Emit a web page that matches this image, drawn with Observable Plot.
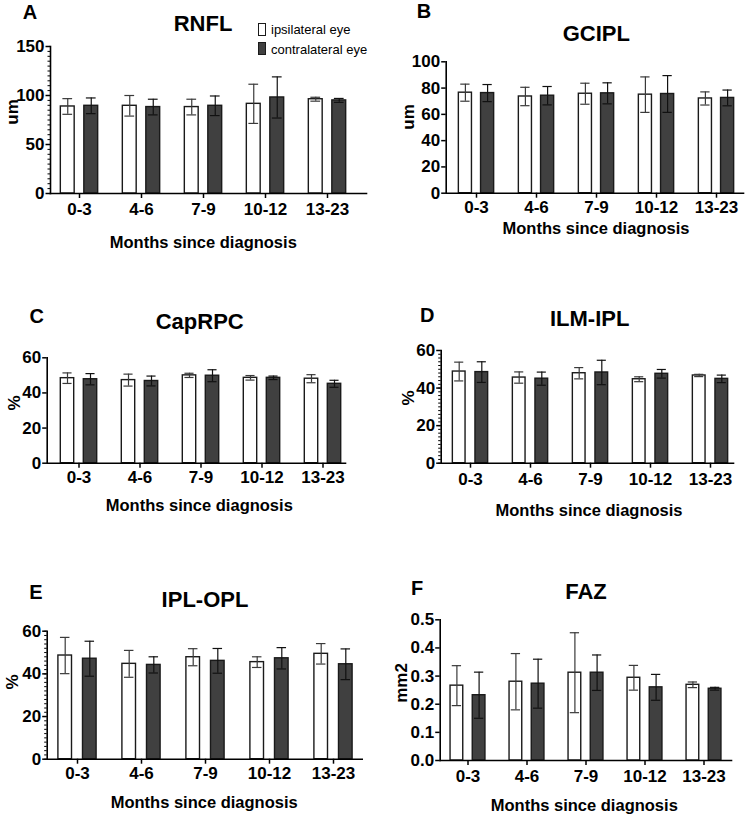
<!DOCTYPE html>
<html>
<head>
<meta charset="utf-8">
<script src="https://cdn.jsdelivr.net/npm/d3@7"></script>
<script src="https://cdn.jsdelivr.net/npm/@observablehq/plot@0.6"></script>
<style>
  body { margin: 0; background: #fff; }
  #fig { position: relative; width: 746px; height: 816px; background: #fff; overflow: hidden;
         font-family: "Liberation Sans", Arial, Helvetica, sans-serif; color: #000; }
  .lab { position: absolute; white-space: nowrap; line-height: 1; font-weight: bold; }
  .panel { position: absolute; }
  .key { position: absolute; box-sizing: border-box; border: 1.3px solid #1a1a1a; }
  .keytext { position: absolute; white-space: nowrap; line-height: 1; font-size: 13px; font-weight: normal; transform: translateY(-50%); }
</style>
</head>
<body>
<div id="fig"></div>
<script>
// Time since diagnosis (months) and the two eyes compared
const groups = ["0-3", "4-6", "7-9", "10-12", "13-23"];
const eyes = ["ipsilateral eye", "contralateral eye"];

// RNFL thickness (um), mean and SD
const rnflIpsi = [88.8, 89.5, 88.2, 91.5, 96.2];
const rnflIpsiSd = [8, 10.5, 8, 20, 2];
const rnflContra = [89.5, 88.2, 89.5, 98, 95];
const rnflContraSd = [8, 8, 10, 21, 2];
const rnflTicks = [0, 50, 100, 150];

// GCIPL thickness (um)
const gciplIpsi = [76.5, 73.6, 75.7, 75, 72.1];
const gciplIpsiSd = [6.5, 7, 8, 13.5, 5];
const gciplContra = [76.2, 74.2, 76, 75.5, 72.5];
const gciplContraSd = [6.5, 7, 8, 14, 6];
const gciplTicks = [0, 20, 40, 60, 80, 100];

// Capillary density, radial peripapillary capillaries (%)
const capIpsi = [48.4, 47.3, 50, 48.6, 48.1];
const capIpsiSd = [3, 3.4, 1.2, 1.3, 2.3];
const capContra = [47.8, 46.8, 49.8, 48.6, 45.2];
const capContraSd = [3.2, 2.8, 3.4, 1, 2];
const capTicks = [0, 20, 40, 60];

// Vessel density ILM-IPL (%)
const ilmIpsi = [48.8, 45.6, 47.9, 44.7, 46.7];
const ilmIpsiSd = [5, 3, 3, 1.3, 0.6];
const ilmContra = [48.5, 45, 48.3, 47.6, 44.9];
const ilmContraSd = [5.5, 3.5, 6.5, 2.3, 2];
const ilmTicks = [0, 20, 40, 60];

// Vessel density IPL-OPL (%)
const iplIpsi = [48.6, 44.7, 47.8, 45.5, 49.4];
const iplIpsiSd = [8.5, 6.3, 4, 2.5, 4.8];
const iplContra = [47.1, 44.2, 46.1, 47.3, 44.5];
const iplContraSd = [8.2, 3.8, 5.8, 5, 7.2];
const iplTicks = [0, 20, 40, 60];

// Foveal avascular zone area (mm2)
const fazIpsi = [0.266, 0.28, 0.312, 0.294, 0.269];
const fazIpsiSd = [0.071, 0.1, 0.142, 0.044, 0.01];
const fazContra = [0.232, 0.273, 0.312, 0.26, 0.255];
const fazContraSd = [0.082, 0.087, 0.063, 0.046, 0.005];
const fazTicks = [0, 0.1, 0.2, 0.3, 0.4, 0.5];

const xTitle = "Months since diagnosis";

// Panel layout in page pixels
const panels = [
  { letter: "A", title: "RNFL", unit: "um", ticks: rnflTicks, yMax: 150, minor: 5,
    ipsi: rnflIpsi, ipsiSd: rnflIpsiSd, contra: rnflContra, contraSd: rnflContraSd,
    box: { left: 0, top: 0, width: 373, height: 225 },
    axisX: 50, yTopPx: 46, y0Px: 193, axisEnd: 366, c0: 78.5, step: 62.25, barW: 15.5, off: 11.75, tickPad: 4,
    letterAt: [30, 12.2], titleAt: [203, 24], unitAt: [12, 112], xTitleAt: [203.3, 241.7] },
  { letter: "B", title: "GCIPL", unit: "um", ticks: gciplTicks, yMax: 100, minor: null,
    ipsi: gciplIpsi, ipsiSd: gciplIpsiSd, contra: gciplContra, contraSd: gciplContraSd,
    box: { left: 373, top: 0, width: 373, height: 225 },
    axisX: 445.7, yTopPx: 61.3, y0Px: 192.7, axisEnd: 743, c0: 475, step: 60.7, barW: 15.2, off: 11.1, tickPad: 3,
    letterAt: [424, 10.8], titleAt: [596.3, 33.8], unitAt: [408.3, 116.7], xTitleAt: [596, 228.3] },
  { letter: "C", title: "CapRPC", unit: "%", ticks: capTicks, yMax: 60, minor: null,
    ipsi: capIpsi, ipsiSd: capIpsiSd, contra: capContra, contraSd: capContraSd,
    box: { left: 0, top: 300, width: 373, height: 195 },
    axisX: 46.7, yTopPx: 357.3, y0Px: 462.7, axisEnd: 345, c0: 76.3, step: 61.9, barW: 15.7, off: 11.5, tickPad: 3,
    letterAt: [36.7, 315.5], titleAt: [199.7, 321.7], unitAt: [14.2, 403], xTitleAt: [199.3, 505] },
  { letter: "D", title: "ILM-IPL", unit: "%", ticks: ilmTicks, yMax: 60, minor: 2,
    ipsi: ilmIpsi, ipsiSd: ilmIpsiSd, contra: ilmContra, contraSd: ilmContraSd,
    box: { left: 373, top: 300, width: 373, height: 195 },
    axisX: 440.7, yTopPx: 350, y0Px: 462.7, axisEnd: 733, c0: 468.5, step: 60.9, barW: 15, off: 11.3, tickPad: 4.5,
    letterAt: [427.2, 315], titleAt: [589.7, 319.2], unitAt: [408, 398], xTitleAt: [589, 510] },
  { letter: "E", title: "IPL-OPL", unit: "%", ticks: iplTicks, yMax: 60, minor: 2,
    ipsi: iplIpsi, ipsiSd: iplIpsiSd, contra: iplContra, contraSd: iplContraSd,
    box: { left: 0, top: 580, width: 373, height: 210 },
    axisX: 46.7, yTopPx: 630.7, y0Px: 758.7, axisEnd: 361.7, c0: 75.8, step: 64.5, barW: 15.5, off: 12.3, tickPad: 2.8,
    letterAt: [35.8, 591.7], titleAt: [205, 600], unitAt: [11.7, 681.7], xTitleAt: [204.2, 801.7] },
  { letter: "F", title: "FAZ", unit: "mm2", ticks: fazTicks, yMax: 0.5, minor: null, fmt: d3.format(".1f"),
    ipsi: fazIpsi, ipsiSd: fazIpsiSd, contra: fazContra, contraSd: fazContraSd,
    box: { left: 373, top: 580, width: 373, height: 210 },
    axisX: 439.7, yTopPx: 619.3, y0Px: 760, axisEnd: 731, c0: 466.2, step: 59.7, barW: 14.8, off: 11.1, tickPad: 4.6,
    letterAt: [417.2, 588.3], titleAt: [586, 592], unitAt: [401.3, 682.5], xTitleAt: [584.3, 805] }
];

const fig = document.getElementById("fig");

function label(text, [x, y], size, rotate) {
  const el = document.createElement("div");
  el.className = "lab";
  el.textContent = text;
  el.style.left = x + "px";
  el.style.top = y + "px";
  el.style.fontSize = size + "px";
  el.style.transform = "translate(-50%, -50%)" + (rotate ? " rotate(-90deg)" : "");
  fig.appendChild(el);
}

function drawPanel(p) {
  const b = p.box;
  const rows = groups.map((g, i) => ({
    group: g, ipsi: p.ipsi[i], ipsiSd: p.ipsiSd[i], contra: p.contra[i], contraSd: p.contraSd[i]
  }));
  const strokeW = 1.4;
  const barIns = (p.step - (p.barW - strokeW)) / 2;
  const capIns = (p.step - 10) / 2;
  const series = [
    { v: "ipsi", sd: "ipsiSd", fill: "#ffffff", whisker: "#3a3a3a", dx: -p.off },
    { v: "contra", sd: "contraSd", fill: "#404040", whisker: "#111111", dx: p.off }
  ];
  const marks = [];
  for (const s of series) {
    marks.push(Plot.barY(rows, {
      x: "group", y1: 0, y2: s.v, dx: s.dx, insetLeft: barIns, insetRight: barIns,
      fill: s.fill, stroke: "#1a1a1a", strokeWidth: strokeW
    }));
    marks.push(Plot.ruleX(rows, {
      x: "group", y1: d => d[s.v] - d[s.sd], y2: d => d[s.v] + d[s.sd], dx: s.dx,
      stroke: s.whisker, strokeWidth: 1.2
    }));
    marks.push(Plot.tickY(rows, {
      x: "group", y: d => d[s.v] + d[s.sd], dx: s.dx, insetLeft: capIns, insetRight: capIns,
      stroke: s.whisker, strokeWidth: 1.2
    }));
    marks.push(Plot.tickY(rows, {
      x: "group", y: d => d[s.v] - d[s.sd], dx: s.dx, insetLeft: capIns, insetRight: capIns,
      stroke: s.whisker, strokeWidth: 1.2
    }));
  }
  if (p.minor) {
    marks.push(Plot.axisY({
      ticks: d3.range(0, p.yMax + 1e-9, p.minor), tickSize: 2.5, tickFormat: () => "",
      label: null, strokeWidth: 1
    }));
  }
  marks.push(Plot.axisY({
    ticks: p.ticks, tickSize: 4.5, tickPadding: 1.5, tickFormat: p.fmt, label: null, strokeWidth: 1.5
  }));
  marks.push(Plot.axisX({ tickSize: 5, tickPadding: p.tickPad, label: null, strokeWidth: 1.5 }));
  marks.push(Plot.frame({ anchor: "left", strokeWidth: 1.6 }));
  marks.push(Plot.frame({ anchor: "bottom", strokeWidth: 1.6 }));

  const chart = Plot.plot({
    width: b.width,
    height: b.height,
    marginLeft: p.axisX - b.left,
    marginRight: b.left + b.width - p.axisEnd,
    marginTop: p.yTopPx - b.top,
    marginBottom: b.top + b.height - p.y0Px,
    x: {
      type: "band", domain: groups, padding: 0,
      range: [p.c0 - p.step / 2 - b.left, p.c0 + 4.5 * p.step - b.left]
    },
    y: { domain: [0, p.yMax] },
    style: {
      fontFamily: '"Liberation Sans", Arial, sans-serif', fontWeight: "bold", fontSize: "17px",
      color: "#000", background: "transparent", overflow: "visible"
    },
    marks
  });
  chart.classList.add("panel");
  chart.style.left = b.left + "px";
  chart.style.top = b.top + "px";
  fig.appendChild(chart);

  label(p.letter, p.letterAt, 20);
  label(p.title, p.titleAt, 22);
  label(p.unit, p.unitAt, 17, true);
  label(xTitle, p.xTitleAt, 16.5);
}

panels.forEach(drawPanel);

// Legend for the eye series
const keyFills = ["#ffffff", "#404040"];
const keyTops = [22.5, 42];
eyes.forEach((name, i) => {
  const box = document.createElement("div");
  box.className = "key";
  box.style.left = "258px";
  box.style.top = keyTops[i] + "px";
  box.style.width = "7.5px";
  box.style.height = "13px";
  box.style.background = keyFills[i];
  fig.appendChild(box);
  const t = document.createElement("div");
  t.className = "keytext";
  t.textContent = name;
  t.style.left = "271px";
  t.style.top = (keyTops[i] + 6.5) + "px";
  fig.appendChild(t);
});
</script>
</body>
</html>
